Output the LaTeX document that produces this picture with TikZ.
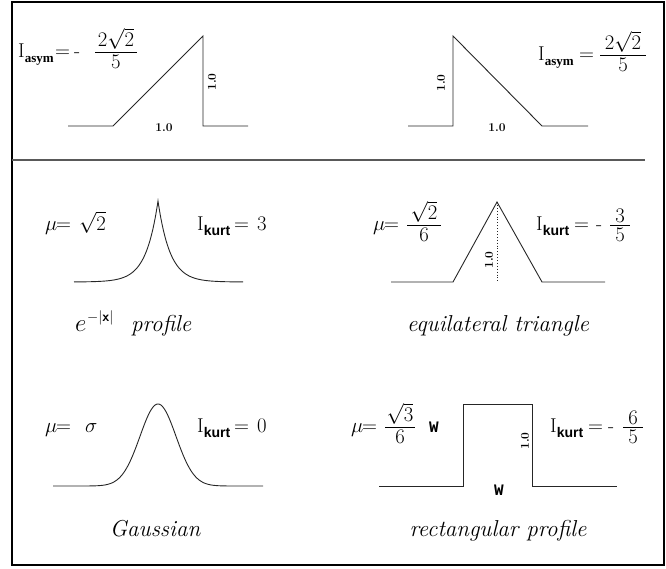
\documentclass[tikz,border=0pt]{standalone}
\usepackage{fontspec}
\newfontfamily\subserif{Liberation Serif}
\newfontfamily\subsans{Liberation Sans}
\newfontfamily\courfont{Liberation Mono}
\newcommand\fracnode[6]{%
  \draw[fracbar] (#2-#4,#3) -- (#2+#4,#3);
  \node[mt, anchor=south] (#1n) at (#2,#3-2.5) {$#5$};
  \node[mt, anchor=north] (#1d) at (#2,#3+3) {$#6$};
}
\newcommand\asymsub{\raisebox{-5pt}{\subserif\bfseries\fontsize{13}{15}\selectfont asym}}
\newcommand\kurtsub{\raisebox{-5pt}{\subsans\bfseries\fontsize{14}{16}\selectfont kurt}}
\begin{document}
\begin{tikzpicture}[x=1pt,y=-1pt,
  frame/.style={line width=1.6pt},
  divider/.style={line width=1.4pt, black!65},
  curve/.style={line width=0.9pt, black!85, line join=miter},
  fracbar/.style={line width=0.9pt},
  mt/.style={inner sep=0pt, font=\fontsize{20}{24}\selectfont},
  lab/.style={inner sep=0pt, font=\fontsize{12}{14}\selectfont\bfseries},
  captxt/.style={inner sep=0pt, font=\fontsize{23}{27}\selectfont\itshape\addfontfeature{LetterSpace=5}},
  suptxt/.style={inner sep=0pt, font=\fontsize{14}{16}\selectfont},
  wlab/.style={inner sep=0pt, font=\courfont\bfseries\fontsize{16}{18}\selectfont}]
\useasboundingbox (0,0) rectangle (666,568);
\draw[frame] (12,2) rectangle (664,565);
\draw[divider] (12,160) -- (645,160);

% ---------- top left: ramp up ----------
\draw[curve] (68,126) -- (113,126) -- (203,36) -- (203,126) -- (248,126);
\node[lab] (tl1) at (164,128) {1.0};
\node[lab, rotate=90] (tl2) at (212,82) {1.0};
\node[mt, anchor=base west] (tlI) at (18,57) {I\asymsub};
\node[mt, anchor=base west] (tleq) at (55,57) {$=$};
\node[mt, anchor=base west] (tlm) at (74,57) {-};
\fracnode{tlf}{116}{52}{21}{2\sqrt{2}}{5}

% ---------- top right: ramp down ----------
\draw[curve] (408,126) -- (453,126) -- (453,36) -- (542,126) -- (588,126);
\node[lab] (tr1) at (497,128) {1.0};
\node[lab, rotate=90] (tr2) at (441,83) {1.0};
\node[mt, anchor=base west] (trI) at (538,60) {I\asymsub};
\node[mt, anchor=base west] (treq) at (579,60) {$=$};
\fracnode{trf}{623}{55}{23}{2\sqrt{2}}{5}

% ---------- middle left: exponential ----------
\draw[curve] plot[domain=74:243, samples=170] (\x,{282-81*exp(-abs(\x-158)/12)});
\node[mt, anchor=base west] (mlmu) at (45,230) {$\mu$};
\node[mt, anchor=base west] (mleq) at (56,230) {$=$};
\node[mt, anchor=base west] (mlv) at (79,230) {$\sqrt{2}$};
\node[mt, anchor=base west] (mlI) at (197,230) {I\kurtsub};
\node[mt, anchor=base west] (mleq2) at (234,230) {$=$};
\node[mt, anchor=base west] (mlv2) at (257,230) {$3$};
\node[captxt, anchor=base west] (mlce) at (75,331) {$e$};
\node[suptxt, anchor=base west] (mlcs) at (87,321) {$-|$\textsf{\textbf{x}}$|$};
\node[captxt, anchor=base west] (mlcp) at (131,331) {profile};

% ---------- middle right: triangle ----------
\draw[curve] (391,282) -- (453,282) -- (497,202) -- (542,282) -- (605,282);
\draw[curve, dotted] (497,202) -- (497,282);
\node[lab, rotate=90] (mr1) at (489,260) {1.0};
\node[mt, anchor=base west] (mrmu) at (373,230) {$\mu$};
\node[mt, anchor=base west] (mreq) at (384,230) {$=$};
\fracnode{mrf}{424}{225}{17}{\sqrt{2}}{6}
\node[mt, anchor=base west] (mrI) at (536,230) {I\kurtsub};
\node[mt, anchor=base west] (mreq2) at (574,230) {$=$};
\node[mt, anchor=base west] (mrm) at (596,230) {-};
\fracnode{mrk}{620}{225}{10}{3}{5}
\node[captxt, anchor=base] (mrc) at (498,331) {equilateral triangle};

% ---------- bottom left: Gaussian ----------
\draw[curve] plot[domain=53:263, samples=211] (\x,{486-82*exp(-((\x-158)/18)^2/2)});
\node[mt, anchor=base west] (blmu) at (45,432) {$\mu$};
\node[mt, anchor=base west] (bleq) at (56,432) {$=$};
\node[mt, anchor=base west] (blv) at (85,432) {$\sigma$};
\node[mt, anchor=base west] (blI) at (197,432) {I\kurtsub};
\node[mt, anchor=base west] (bleq2) at (234,432) {$=$};
\node[mt, anchor=base west] (blv2) at (257,432) {$0$};
\node[captxt, anchor=base] (blc) at (155,536) {Gaussian};

% ---------- bottom right: rectangle ----------
\draw[curve] (379,486) -- (463,486) -- (463,404) -- (532,404) -- (532,486) -- (617,486);
\node[lab, rotate=90] (br1) at (525,441) {1.0};
\node[wlab] (brw) at (499,490) {W};
\node[mt, anchor=base west] (brmu) at (351,432) {$\mu$};
\node[mt, anchor=base west] (breq) at (362,432) {$=$};
\fracnode{brf}{400}{427}{15}{\sqrt{3}}{6}
\node[wlab, anchor=base west] (brw2) at (429,432) {W};
\node[mt, anchor=base west] (brI) at (550,432) {I\kurtsub};
\node[mt, anchor=base west] (breq2) at (588,432) {$=$};
\node[mt, anchor=base west] (brm) at (608,432) {-};
\fracnode{brk}{633}{427}{10}{6}{5}
\node[captxt, anchor=base] (brc) at (498,536) {rectangular profile};
\end{tikzpicture}
\end{document}
